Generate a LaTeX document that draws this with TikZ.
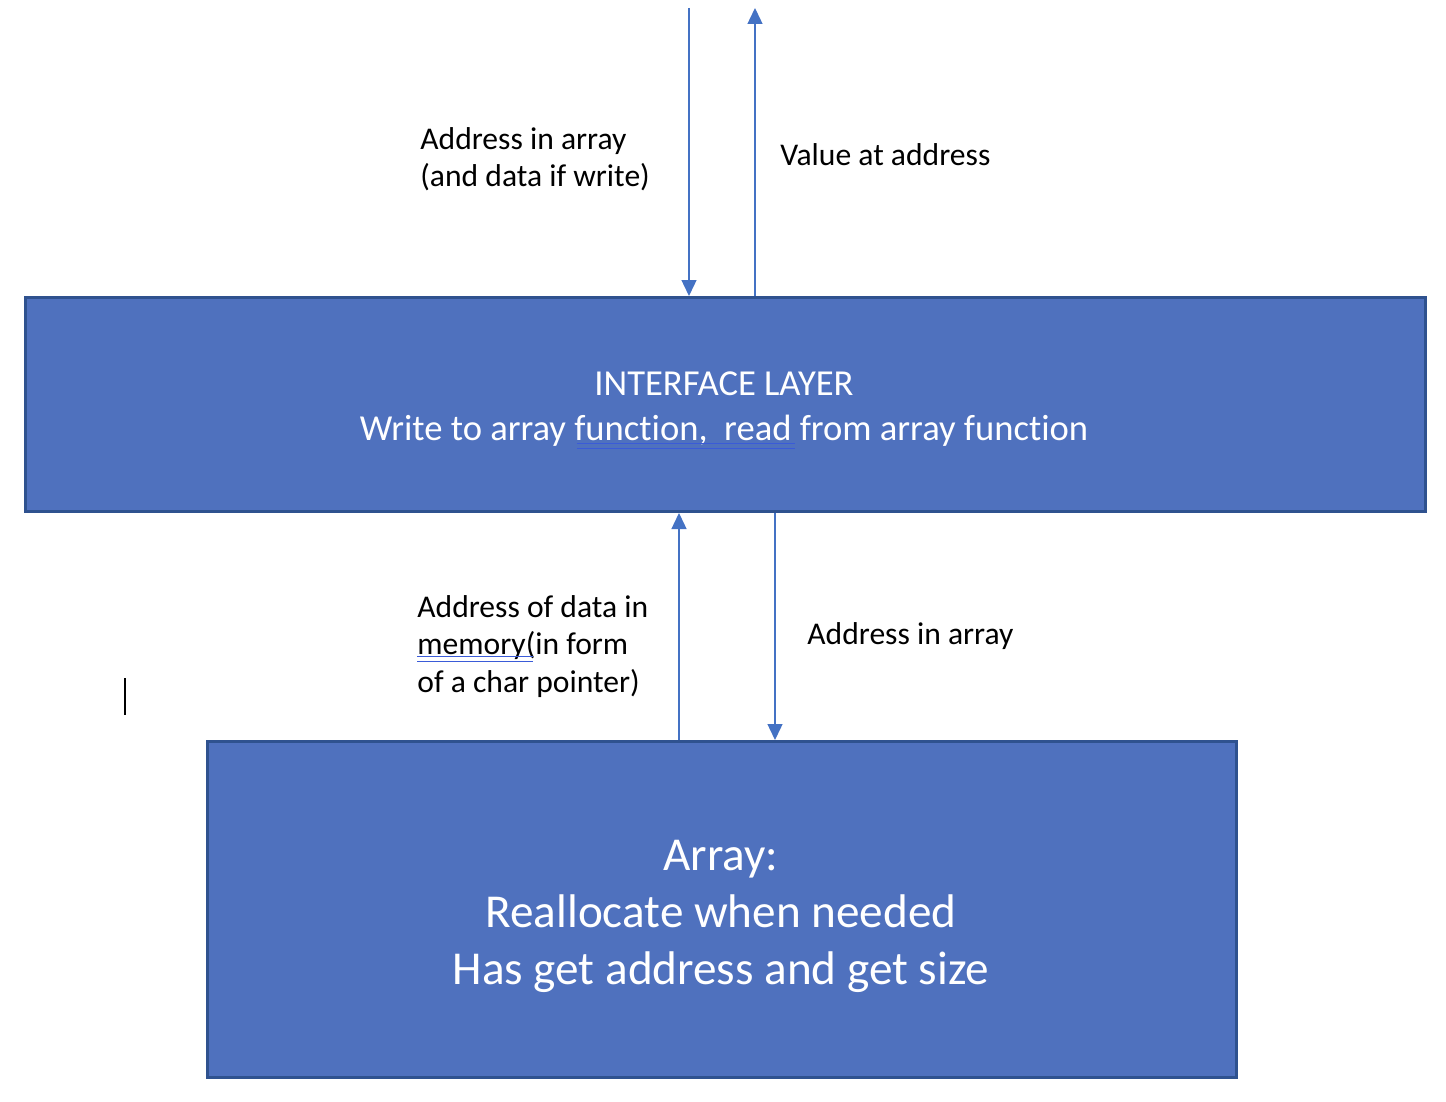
\documentclass[tikz,border=0pt]{standalone}
\usepackage{fontspec}
\setmainfont{Carlito}[Ligatures=NoCommon]
\usetikzlibrary{arrows.meta}
\definecolor{boxfill}{HTML}{4F71BE}
\definecolor{boxline}{HTML}{2F528F}
\definecolor{arrcol}{HTML}{4472C4}
\definecolor{ulcol}{HTML}{3A5BD8}
\begin{document}
\begin{tikzpicture}[x=0.5pt,y=-0.5pt,
  layerbox/.style={draw=boxline, fill=boxfill, line width=1.5pt, minimum width=10pt, text=white, align=center, inner sep=0pt},
  flow/.style={draw=arrcol, line width=0.7pt, -{Triangle[width=7.5pt,length=8pt]}},
  lbl/.style={anchor=west, inner sep=0pt, align=left, font=\fontsize{15.8}{18.6}\selectfont},
  spell/.style={draw=ulcol, line width=0.5pt}]
\useasboundingbox (0,0) rectangle (1446,1102);
\node[layerbox, minimum width=700pt, minimum height=107pt] (iface) at (725.5,404.5) {};
\node[text=white, align=center, inner sep=0pt, font=\fontsize{18.3}{22.5}\selectfont]
  (ifacetext) at (724,409.5) {INTERFACE LAYER\\Write to array function,\ \ read from array function};
\node[layerbox, minimum width=514.5pt, minimum height=168pt] (arr) at (722,909.5) {};
\node[text=white, align=center, inner sep=0pt, font=\fontsize{23.6}{28.5}\selectfont]
  (arrtext) at (721,916) {Array:\\Reallocate when needed\\Has get address and get size};
% top arrows
\coordinate (tin) at (689,8);
\coordinate (tout) at (755,8);
\draw[flow] (tin) -- (tin |- iface.north);
\draw[flow] (tout |- iface.north) -- (tout);
% middle arrows
\coordinate (mup) at (679,600);
\coordinate (mdn) at (775,600);
\draw[flow] (mup |- arr.north) -- (mup |- iface.south);
\draw[flow] (mdn |- iface.south) -- (mdn |- arr.north);
% labels
\node[lbl] (l1) at (420,159) {Address in array\\(and data if write)};
\node[lbl] (l2) at (780,155) {Value at address};
\node[lbl] (l3) at (417,646.5) {Address of data in\\memory(in form\\of a char pointer)};
\node[lbl] (l4) at (807,636) {Address in array};
% spelling underlines
\draw[spell] (577,443.5) -- (795,443.5);
\draw[spell] (577,448) -- (795,448);
\draw[spell] (417,656.5) -- (533,656.5);
\draw[spell] (417,661) -- (533,661);
% text cursor
\draw[black, line width=1pt] (125,678) -- (125,715);
\end{tikzpicture}
\end{document}
